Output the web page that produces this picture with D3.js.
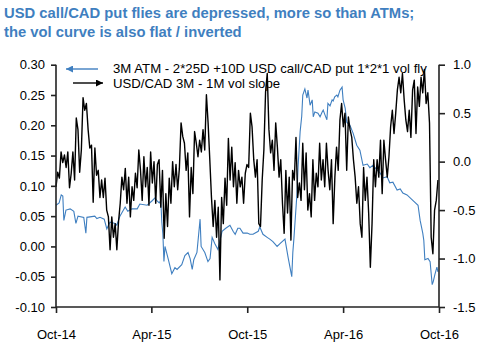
<!DOCTYPE html>
<html>
<head>
<meta charset="utf-8">
<script src="https://cdn.jsdelivr.net/npm/d3@7"></script>
<style>
  body { margin: 0; background: #fff; }
  svg { display: block; font-family: "Liberation Sans", Arial, sans-serif; }
</style>
</head>
<body>
<div class="draw"></div>
<script>
// title lines
var titleLines = [
  'USD call/CAD put flies are depressed, more so than ATMs;',
  'the vol curve is also flat / inverted'
];
var legendLabels = [
  '3M ATM - 2*25D +10D USD call/CAD put 1*2*1 vol fly',
  'USD/CAD 3M - 1M vol slope'
];

// fly, left axis: [days since 1-Oct-2014, value]
var flyObs = [
  [0, 0.068], [6, 0.072], [10, 0.085], [13, 0.083], [15, 0.043], [19, 0.060], [27, 0.062],
  [34, 0.058], [38, 0.038], [42, 0.050], [53, 0.048], [57, 0.022], [59, 0.048], [74, 0.050],
  [78, 0.046], [84, 0.048], [92, 0.045], [97, 0.029], [103, 0.040], [113, 0.038], [116, 0.035],
  [122, 0.050], [132, 0.065], [137, 0.058], [145, 0.062], [155, 0.062], [160, 0.070], [174, 0.068],
  [183, 0.075], [189, 0.080], [193, 0.075], [197, 0.072], [200, 0.076], [202, 0.040], [204, 0.020],
  [206, -0.025], [208, 0.000], [214, -0.020], [221, -0.045], [227, -0.035], [231, -0.038],
  [240, -0.030], [246, -0.015], [252, -0.010], [256, -0.020], [260, -0.038], [263, -0.022],
  [269, -0.010], [275, 0.045], [277, 0.000], [284, -0.010], [290, -0.025], [294, -0.020],
  [298, 0.015], [303, 0.005], [309, -0.005], [313, 0.010], [317, 0.025], [324, 0.030],
  [332, 0.035], [338, 0.025], [342, 0.020], [347, 0.030], [351, 0.030], [357, 0.022],
  [365, 0.022], [370, 0.020], [376, 0.020], [386, 0.025], [389, 0.032], [395, 0.020],
  [403, 0.015], [408, 0.012], [414, 0.008], [422, 0.000], [428, 0.005], [437, 0.012],
  [443, -0.018], [450, -0.050], [452, -0.010], [454, 0.012], [460, 0.088], [462, 0.131],
  [466, 0.190], [469, 0.215], [471, 0.250], [475, 0.260], [479, 0.245], [481, 0.258],
  [485, 0.233], [489, 0.242], [491, 0.214], [494, 0.222], [500, 0.220], [504, 0.214],
  [508, 0.222], [510, 0.225], [513, 0.218], [517, 0.209], [519, 0.236], [523, 0.232],
  [527, 0.242], [529, 0.240], [532, 0.247], [536, 0.250], [538, 0.247], [542, 0.258],
  [546, 0.263], [548, 0.242], [552, 0.228], [555, 0.205], [561, 0.200], [567, 0.187],
  [574, 0.167], [580, 0.159], [586, 0.134], [594, 0.136], [599, 0.130], [605, 0.134],
  [613, 0.126], [618, 0.122], [624, 0.113], [632, 0.115], [637, 0.105], [643, 0.106],
  [651, 0.093], [657, 0.095], [662, 0.088], [670, 0.085], [681, 0.076], [691, 0.068],
  [695, 0.043], [700, 0.022], [702, 0.010], [704, -0.022], [710, -0.020], [714, -0.025],
  [718, -0.063], [720, -0.058], [723, -0.047], [727, -0.034], [729, -0.042]
];

// vol slope, right axis: equally spaced readings from 1-Oct-2014 to 29-Sep-2016
var slopeFirstDay = 0;
var slopeLastDay = 729;
var slopeValues = [
  -0.26, -0.11, -0.17, 0.10, -0.01, 0.07, -0.06, 0.10, -0.27, -0.12, 0.10, -0.19, 0.45, 0.33,
  -0.11, 0.12, 0.66, 0.53, 0.60, 0.33, 0.14, 0.17, -0.42, 0.14, -0.14, -0.09, -0.37, -0.19,
  -0.37, -0.17, -0.50, -0.57, -0.91, -0.57, -0.78, -0.64, -0.91, -0.62, -0.43, -0.16, -0.29,
  -0.07, -0.43, -0.16, -0.57, -0.26, -0.40, -0.12, -0.27, 0.12, -0.09, -0.40, 0.05, -0.26,
  -0.06, -0.45, 0.10, -0.22, 0.00, -0.43, -0.03, 0.02, -0.47, -0.09, -0.79, -0.33, -0.67,
  -0.17, -0.43, 0.00, -0.26, -0.03, -0.29, -0.07, 0.40, 0.26, 0.19, -0.09, 0.09, -0.57,
  -0.06, -0.33, 0.31, 0.19, 0.05, 0.22, 0.10, 0.33, 0.12, 0.69, 0.40, 0.02, -0.37, -0.67,
  -0.40, -0.78, -0.47, -1.22, -0.37, -0.64, -0.17, -0.45, 0.24, -0.19, 0.15, -0.26, -0.01,
  -0.43, -0.09, -0.26, -0.16, -0.43, -0.12, -0.03, -0.06, 0.50, 0.36, 0.02, -0.16, 0.02,
  -0.64, -0.67, -0.19, 0.12, 0.72, 0.91, 0.33, 0.09, 0.22, -0.09, 0.40, 0.15, -0.16, 0.02,
  -0.43, -0.74, -0.09, -0.53, -0.16, -0.81, -0.09, -0.19, 0.25, -0.37, -0.22, -0.40, 0.19,
  -0.29, 0.09, -0.50, -0.33, -0.57, 0.02, -0.40, -0.12, -0.26, 0.19, -0.19, 0.02, -0.26,
  0.19, -0.09, -0.29, 0.02, -0.64, -0.16, 0.15, -0.09, 0.43, 0.60, 0.36, 0.50, -0.09, 0.46,
  0.33, 0.25, 0.02, -0.16, -0.43, -0.26, -0.64, -0.78, -0.06, -0.40, -0.16, -0.53, -1.09,
  -0.64, 0.02, -0.26, 0.02, -0.16, 0.22, -0.33, 0.22, 0.02, -0.16, 0.05, 0.36, 0.53, 0.29,
  0.50, 0.74, 0.87, 0.71, 0.91, 0.64, 0.43, 0.31, 0.53, 0.25, 0.74, 0.84, 0.29, 0.77, 0.57,
  0.87, 0.71, 0.95, 0.60, 0.71, 0.40, -0.78, -0.95, -0.50, -0.40, -0.19
];

var leftTicks = [-0.10, -0.05, 0.00, 0.05, 0.10, 0.15, 0.20, 0.25, 0.30];
var rightTicks = [-1.5, -1.0, -0.5, 0.0, 0.5, 1.0];
var monthTicks = ['2014-10-01', '2015-04-01', '2015-10-01', '2016-04-01', '2016-10-01'];

var W = 479, H = 352;
var m = { top: 64.7, right: 40, bottom: 45, left: 56 };
var blue = '#3f7fc0';
var start = new Date(2014, 9, 1);
var parse = d3.timeParse('%Y-%m-%d');
function dayToDate(d) { return d3.timeDay.offset(start, Math.round(d)); }

var svg = d3.select('.draw').append('svg')
  .attr('width', W).attr('height', H);

var x = d3.scaleTime()
  .domain([start, parse('2016-10-01')])
  .range([m.left, W - m.right]);
var yL = d3.scaleLinear().domain([-0.10, 0.30]).range([H - m.bottom, m.top]);
var yR = d3.scaleLinear().domain([-1.5, 1.0]).range([H - m.bottom, m.top]);

var minus = function(s) { return s.replace('\u2212', '-'); };

// title
svg.append('g').selectAll('text').data(titleLines).enter().append('text')
  .attr('x', 4).attr('y', function(d, i) { return 18 + i * 18.5; })
  .attr('fill', blue).attr('font-weight', 'bold').attr('font-size', 14.8)
  .text(function(d) { return d; });

// series
var flyLine = d3.line()
  .x(function(d) { return x(dayToDate(d[0])); })
  .y(function(d) { return yL(d[1]); });
var step = (slopeLastDay - slopeFirstDay) / (slopeValues.length - 1);
var slopeLine = d3.line()
  .x(function(d, i) { return x(d3.timeHour.offset(start, Math.round((slopeFirstDay + i * step) * 24))); })
  .y(function(d) { return yR(d); });

svg.append('path').datum(flyObs)
  .attr('d', flyLine).attr('fill', 'none')
  .attr('stroke', blue).attr('stroke-width', 1.1);
svg.append('path').datum(slopeValues)
  .attr('d', slopeLine).attr('fill', 'none')
  .attr('stroke', '#000').attr('stroke-width', 1.4).attr('stroke-linejoin', 'round');

// axes
var axL = svg.append('g').attr('transform', 'translate(' + m.left + ',0)')
  .call(d3.axisLeft(yL).tickValues(leftTicks).tickSize(5).tickPadding(6)
    .tickFormat(function(d) { return minus(d3.format('.2f')(d)); }));
var axR = svg.append('g').attr('transform', 'translate(' + (W - m.right) + ',0)')
  .call(d3.axisRight(yR).tickValues(rightTicks).tickSize(6).tickPadding(8)
    .tickFormat(function(d) { return minus(d3.format('.1f')(d)); }));
var axB = svg.append('g').attr('transform', 'translate(0,' + (H - m.bottom) + ')')
  .call(d3.axisBottom(x).tickValues(monthTicks.map(parse)).tickSize(6).tickPadding(17)
    .tickFormat(d3.timeFormat('%b-%y')));

[axL, axR, axB].forEach(function(g) {
  g.select('.domain').attr('stroke', '#222').attr('stroke-width', 1.6);
  g.selectAll('.tick line').attr('stroke', '#222').attr('stroke-width', 1.6);
  g.selectAll('text').attr('font-size', 13).attr('fill', '#000')
    .attr('font-family', '"Liberation Sans", Arial, sans-serif');
});
axL.select('.domain').attr('d', 'M0,' + m.top + 'V' + (H - m.bottom));
axR.select('.domain').attr('d', 'M0,' + m.top + 'V' + (H - m.bottom));
axB.select('.domain').attr('d', 'M' + m.left + ',0H' + (W - m.right));

// legend
var lg = svg.append('g');
lg.append('defs').html(
  '<marker id="ahB" viewBox="0 0 10 10" refX="10" refY="5" markerWidth="10" markerHeight="7" markerUnits="userSpaceOnUse" orient="auto"><path d="M0,0L10,5L0,10z" fill="' + blue + '"/></marker>' +
  '<marker id="ahK" viewBox="0 0 10 10" refX="10" refY="5" markerWidth="10" markerHeight="7" markerUnits="userSpaceOnUse" orient="auto"><path d="M0,0L10,5L0,10z" fill="#000"/></marker>');
lg.append('line').attr('x1', 98).attr('y1', 69).attr('x2', 66).attr('y2', 69)
  .attr('stroke', blue).attr('stroke-width', 1.4).attr('marker-end', 'url(#ahB)');
lg.append('line').attr('x1', 73).attr('y1', 83).attr('x2', 103).attr('y2', 83)
  .attr('stroke', '#000').attr('stroke-width', 1.4).attr('marker-end', 'url(#ahK)');
lg.selectAll('text.lab').data(legendLabels).enter().append('text')
  .attr('class', 'lab')
  .attr('x', 113).attr('y', function(d, i) { return 73 + i * 14.5; })
  .attr('font-size', 13.2)
  .text(function(d) { return d; });
</script>
</body>
</html>
